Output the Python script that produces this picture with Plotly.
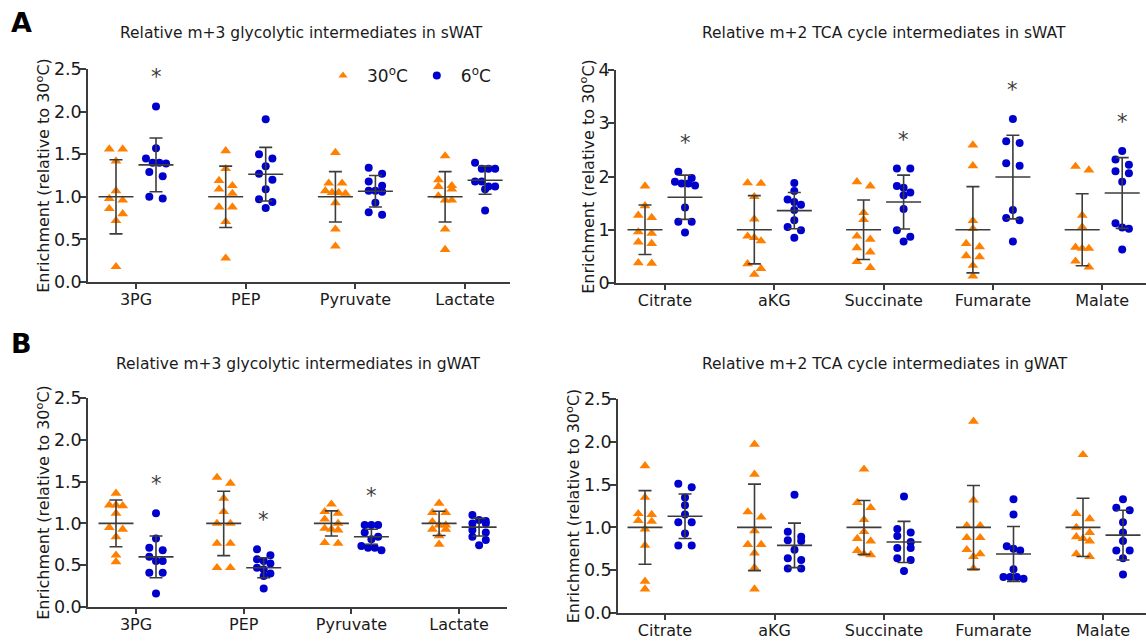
import plotly.graph_objects as go

W, H = 1146, 641
FONT = "DejaVu Sans"
ORANGE = "#FF8000"
BLUE = "#0000CC"
DARK = "#3c3c3c"
TXT = "#1a1a1a"

# ---------------- data ----------------
gly_cats = ["3PG", "PEP", "Pyruvate", "Lactate"]
tca_cats = ["Citrate", "aKG", "Succinate", "Fumarate", "Malate"]

# A: sWAT glycolytic
A_gly_30 = [[1.56, 1.56, 1.42, 1.07, 0.98, 0.96, 0.86, 0.80, 0.72, 0.18],
            [1.54, 1.33, 1.19, 1.13, 1.09, 1.04, 0.88, 0.88, 0.71, 0.28],
            [1.52, 1.16, 1.16, 1.07, 1.05, 1.05, 1.04, 0.93, 0.62, 0.42],
            [1.48, 1.20, 1.13, 1.12, 1.09, 1.01, 0.96, 0.96, 0.62, 0.38]]
A_gly_6 = [[2.06, 1.57, 1.45, 1.40, 1.40, 1.39, 1.29, 1.24, 1.00, 0.98],
           [1.91, 1.50, 1.45, 1.36, 1.27, 1.20, 1.09, 0.97, 0.94, 0.87],
           [1.34, 1.27, 1.18, 1.13, 1.07, 1.07, 1.06, 0.93, 0.82, 0.79],
           [1.40, 1.33, 1.33, 1.33, 1.18, 1.18, 1.12, 1.12, 1.09, 0.84]]
A_gly_mean30 = [1.0, 1.0, 1.0, 1.0]
A_gly_sd30 = [0.435, 0.36, 0.295, 0.295]
A_gly_mean6 = [1.375, 1.265, 1.065, 1.195]
A_gly_sd6 = [0.315, 0.315, 0.185, 0.165]
A_gly_sig = [1, 0, 0, 0]

# A: sWAT TCA
A_tca_30 = [[1.82, 1.45, 1.27, 1.23, 0.96, 0.93, 0.77, 0.74, 0.38, 0.37],
            [1.88, 1.87, 1.62, 1.20, 0.88, 0.85, 0.79, 0.36, 0.27, 0.16],
            [1.90, 1.82, 1.32, 1.19, 0.88, 0.82, 0.66, 0.58, 0.40, 0.29],
            [2.59, 2.20, 1.17, 1.02, 0.74, 0.68, 0.51, 0.49, 0.33, 0.13],
            [2.19, 2.12, 1.27, 1.05, 0.67, 0.65, 0.65, 0.41, 0.30]]
A_tca_6 = [[2.09, 1.97, 1.90, 1.87, 1.87, 1.83, 1.42, 1.15, 1.15, 0.95],
           [1.88, 1.73, 1.57, 1.52, 1.47, 1.37, 1.18, 1.05, 0.99, 0.85],
           [2.15, 2.15, 1.82, 1.79, 1.70, 1.65, 1.39, 0.99, 0.87, 0.78],
           [3.08, 2.66, 2.63, 2.25, 2.20, 1.37, 1.22, 1.18, 0.78],
           [2.48, 2.32, 2.22, 2.10, 2.06, 1.90, 1.12, 1.04, 1.02, 0.63]]
A_tca_mean30 = [1.0, 1.0, 1.0, 1.0, 1.0]
A_tca_sd30 = [0.465, 0.64, 0.56, 0.81, 0.675]
A_tca_mean6 = [1.61, 1.36, 1.52, 1.99, 1.69]
A_tca_sd6 = [0.415, 0.34, 0.505, 0.785, 0.665]
A_tca_sig = [1, 0, 1, 1, 1]

# B: gWAT glycolytic
B_gly_30 = [[1.36, 1.22, 1.22, 1.21, 1.12, 0.95, 0.93, 0.84, 0.62, 0.54],
            [1.55, 1.48, 1.30, 1.14, 1.00, 1.00, 0.76, 0.76, 0.47, 0.47],
            [1.23, 1.14, 1.12, 1.05, 1.00, 0.94, 0.93, 0.92, 0.77, 0.76],
            [1.24, 1.13, 1.13, 1.02, 0.98, 0.98, 0.93, 0.93, 0.85, 0.75]]
B_gly_6 = [[1.12, 0.82, 0.71, 0.68, 0.60, 0.55, 0.55, 0.41, 0.41, 0.16],
           [0.69, 0.62, 0.57, 0.55, 0.52, 0.47, 0.45, 0.40, 0.37, 0.22],
           [0.98, 0.98, 0.98, 0.89, 0.84, 0.81, 0.73, 0.71, 0.71, 0.68],
           [1.10, 1.04, 1.03, 1.00, 1.00, 0.92, 0.89, 0.84, 0.80, 0.74]]
B_gly_mean30 = [1.0, 1.0, 1.0, 1.0]
B_gly_sd30 = [0.28, 0.385, 0.15, 0.145]
B_gly_mean6 = [0.60, 0.47, 0.84, 0.955]
B_gly_sd6 = [0.25, 0.12, 0.09, 0.105]
B_gly_sig = [1, 1, 1, 0]

# B: gWAT TCA
B_tca_30 = [[1.72, 1.35, 1.16, 1.15, 1.08, 1.07, 0.98, 0.79, 0.37, 0.28],
            [1.97, 1.62, 1.18, 1.12, 0.96, 0.80, 0.80, 0.70, 0.53, 0.28],
            [1.68, 1.29, 1.23, 1.09, 0.95, 0.87, 0.84, 0.73, 0.69, 0.68],
            [2.24, 1.32, 1.02, 1.02, 0.88, 0.88, 0.74, 0.69, 0.66, 0.52],
            [1.85, 1.16, 1.10, 1.00, 0.94, 0.89, 0.87, 0.84, 0.69, 0.66]]
B_tca_6 = [[1.51, 1.47, 1.35, 1.26, 1.15, 1.06, 1.06, 0.93, 0.79, 0.79],
           [1.38, 0.95, 0.89, 0.85, 0.84, 0.74, 0.64, 0.62, 0.52, 0.52],
           [1.36, 0.98, 0.94, 0.90, 0.83, 0.76, 0.76, 0.64, 0.62, 0.49],
           [1.33, 1.15, 0.78, 0.75, 0.73, 0.51, 0.42, 0.42, 0.42, 0.40],
           [1.33, 1.23, 1.20, 1.06, 0.94, 0.84, 0.73, 0.73, 0.64, 0.45]]
B_tca_mean30 = [1.0, 1.0, 1.0, 1.0, 1.0]
B_tca_sd30 = [0.43, 0.505, 0.315, 0.49, 0.34]
B_tca_mean6 = [1.13, 0.79, 0.83, 0.69, 0.91]
B_tca_sd6 = [0.26, 0.26, 0.24, 0.32, 0.29]
B_tca_sig = [0, 0, 0, 0, 0]

titles = ["Relative m+3 glycolytic intermediates in sWAT",
          "Relative m+2 TCA cycle intermediates in sWAT",
          "Relative m+3 glycolytic intermediates in gWAT",
          "Relative m+2 TCA cycle intermediates in gWAT"]
y_title = "Enrichment (relative to 30<sup>o</sup>C)"
legend_names = ["30<sup>o</sup>C", "6<sup>o</sup>C"]

# ---------------- layout geometry (pixels) ----------------
panels = [
    dict(cats=gly_cats, v30=A_gly_30, v6=A_gly_6, m30=A_gly_mean30, s30=A_gly_sd30,
         m6=A_gly_mean6, s6=A_gly_sd6, sig=A_gly_sig,
         xpx=(88, 510), cat0=136, step=109.7, ypx=(69, 282), yr=(0, 2.5), dtick=0.5, fmt=".1f",
         tpos=(301, 33)),
    dict(cats=tca_cats, v30=A_tca_30, v6=A_tca_6, m30=A_tca_mean30, s30=A_tca_sd30,
         m6=A_tca_mean6, s6=A_tca_sd6, sig=A_tca_sig,
         xpx=(616, 1146), cat0=665, step=109.3, ypx=(70, 283), yr=(0, 4), dtick=1, fmt="d",
         tpos=(884, 33)),
    dict(cats=gly_cats, v30=B_gly_30, v6=B_gly_6, m30=B_gly_mean30, s30=B_gly_sd30,
         m6=B_gly_mean6, s6=B_gly_sd6, sig=B_gly_sig,
         xpx=(88, 507), cat0=136, step=107.7, ypx=(398, 607), yr=(0, 2.5), dtick=0.5, fmt=".1f",
         tpos=(298, 364)),
    dict(cats=tca_cats, v30=B_tca_30, v6=B_tca_6, m30=B_tca_mean30, s30=B_tca_sd30,
         m6=B_tca_mean6, s6=B_tca_sd6, sig=B_tca_sig,
         xpx=(618, 1146), cat0=665, step=109.5, ypx=(399, 613), yr=(0, 2.5), dtick=0.5, fmt=".1f",
         tpos=(885, 364)),
]

GROUP_OFF_PX = 20.0   # horizontal offset of each group from category tick
SWARM_STEP_PX = 6.7
SWARM_THRESH_PX = 6.5


def swarm_offsets(vals, ppu):
    """GraphPad-like scatter: points with nearly equal values share a row."""
    n = len(vals)
    order = sorted(range(n), key=lambda i: -vals[i])
    rows = []
    for i in order:
        if rows and (vals[rows[-1][0]] - vals[i]) * ppu < SWARM_THRESH_PX:
            rows[-1].append(i)
        else:
            rows.append([i])
    off = [0.0] * n
    for row in rows:
        m = len(row)
        if m == 2:
            offs = [-SWARM_STEP_PX, SWARM_STEP_PX]
        else:
            offs = [(k - (m - 1) / 2) * SWARM_STEP_PX for k in range(m)]
        for k, i in enumerate(row):
            off[i] = offs[k]
    return off


fig = go.Figure()
layout_axes = {}
annotations = []

for p_i, p in enumerate(panels):
    n = p_i + 1
    xa = "x" if n == 1 else f"x{n}"
    ya = "y" if n == 1 else f"y{n}"
    x0px, x1px = p["xpx"]
    ytop, ybot = p["ypx"]
    xr = ((x0px - p["cat0"]) / p["step"], (x1px - p["cat0"]) / p["step"])
    ppu = (ybot - ytop) / (p["yr"][1] - p["yr"][0])
    goff = GROUP_OFF_PX / p["step"]

    for gi, (vals_all, means, sds, color, sym) in enumerate([
            (p["v30"], p["m30"], p["s30"], ORANGE, "triangle-up"),
            (p["v6"], p["m6"], p["s6"], BLUE, "circle")]):
        sign = -1 if gi == 0 else 1
        xs, ys = [], []
        for ci, vals in enumerate(vals_all):
            offs = swarm_offsets(vals, ppu)
            for v, o in zip(vals, offs):
                xs.append(ci + sign * goff + o / p["step"])
                ys.append(v)
        fig.add_trace(go.Scatter(
            x=xs, y=ys, mode="markers", xaxis=xa, yaxis=ya, showlegend=False,
            marker=dict(symbol=sym, size=8 if sym == "circle" else 9.5, color=color,
                        line=dict(width=0)),
            cliponaxis=False, hoverinfo="y"))
        # mean +/- SD
        fig.add_trace(go.Scatter(
            x=[ci + sign * goff for ci in range(len(means))], y=means,
            mode="markers", xaxis=xa, yaxis=ya, showlegend=False,
            marker=dict(symbol="line-ew", size=25, color=DARK,
                        line=dict(width=1.6, color=DARK)),
            error_y=dict(type="data", array=sds, visible=True, color=DARK,
                         thickness=1.6, width=6.5),
            cliponaxis=False, hoverinfo="y"))

    # significance asterisks
    for ci, s in enumerate(p["sig"]):
        if s:
            annotations.append(dict(
                x=ci + goff, y=max(p["v6"][ci]), xref=xa, yref=ya, text="*",
                showarrow=False, yshift=29, font=dict(family=FONT, size=21, color=DARK)))

    xkey = "xaxis" if n == 1 else f"xaxis{n}"
    ykey = "yaxis" if n == 1 else f"yaxis{n}"
    layout_axes[xkey] = dict(
        domain=[x0px / W, x1px / W], range=list(xr), anchor=ya, automargin=False,
        tickvals=list(range(len(p["cats"]))), ticktext=p["cats"],
        showline=True, linecolor=DARK, linewidth=1.5, ticks="outside", ticklen=5,
        tickcolor=DARK, tickwidth=1.5, showgrid=False, zeroline=False,
        ticklabelstandoff=-3,
        tickfont=dict(family=FONT, size=16, color=TXT), fixedrange=True)
    layout_axes[ykey] = dict(
        domain=[(H - ybot) / H, (H - ytop) / H], range=list(p["yr"]), anchor=xa,
        automargin=False, dtick=p["dtick"], tick0=0, tickformat=p["fmt"],
        showline=True, linecolor=DARK, linewidth=1.5, ticks="outside", ticklen=6,
        tickcolor=DARK, tickwidth=1.5, showgrid=False, zeroline=False,
        ticklabelstandoff=-5,
        tickfont=dict(family=FONT, size=17.5, color=TXT),
        title=dict(text=y_title, font=dict(family=FONT, size=16, color=TXT), standoff=0),
        fixedrange=True)

    annotations.append(dict(
        x=p["tpos"][0] / W, y=1 - p["tpos"][1] / H, xref="paper", yref="paper",
        text=titles[p_i], showarrow=False, xanchor="center", yanchor="middle",
        font=dict(family=FONT, size=15.5, color=TXT)))

# panel letters
for letter, (lx, ly) in zip(["A", "B"], [(21, 22), (21, 343)]):
    annotations.append(dict(
        x=lx / W, y=1 - ly / H, xref="paper", yref="paper", text=f"<b>{letter}</b>",
        showarrow=False, xanchor="center", yanchor="middle",
        font=dict(family=FONT, size=27, color="#000000")))

# legend entries (dummy traces)
for name, color, sym, size in [(legend_names[0], ORANGE, "triangle-up", 8),
                               (legend_names[1], BLUE, "circle", 8)]:
    fig.add_trace(go.Scatter(x=[None], y=[None], mode="markers", name=name,
                             marker=dict(symbol=sym, size=size, color=color),
                             showlegend=True))

fig.update_layout(
    width=W, height=H, margin=dict(l=0, r=0, t=0, b=0, autoexpand=False),
    paper_bgcolor="white", plot_bgcolor="white",
    font=dict(family=FONT, color=TXT),
    showlegend=True,
    legend=dict(orientation="h", x=319 / W, y=1 - 58 / H, xanchor="left", yanchor="top",
                font=dict(family=FONT, size=17, color=TXT), bgcolor="rgba(0,0,0,0)",
                itemwidth=38, tracegroupgap=0),
    annotations=annotations,
    **layout_axes)

fig.write_html("out.html", config={"displayModeBar": False},
               post_script="document.body.style.margin='0px';document.body.style.overflow='hidden';")
